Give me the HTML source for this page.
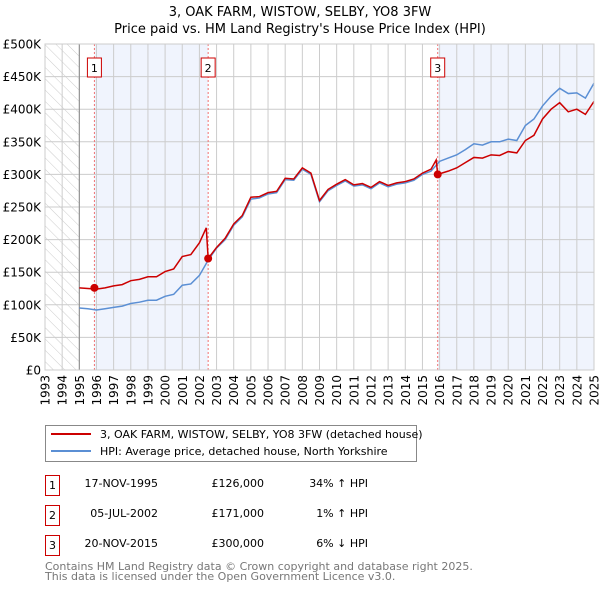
<!DOCTYPE html>
<html><head><meta charset="utf-8"><style>
body{margin:0;background:#fff;font-family:"Liberation Sans","DejaVu Sans",sans-serif;}
svg text{font-family:"DejaVu Sans","Liberation Sans",sans-serif;}
</style></head><body>
<svg id="c" width="600" height="590" xmlns="http://www.w3.org/2000/svg">
<defs><pattern id="hatch" width="8" height="8" patternUnits="userSpaceOnUse" patternTransform="rotate(-45)"><line x1="0" y1="0" x2="0" y2="8" stroke="#ccc" stroke-width="1"/></pattern></defs>
<text x="300" y="16" text-anchor="middle" font-size="13">3, OAK FARM, WISTOW, SELBY, YO8 3FW</text>
<text x="300" y="33" text-anchor="middle" font-size="13">Price paid vs. HM Land Registry's House Price Index (HPI)</text>
<g id="plot"></g>
<g>
<rect x="45.5" y="425.5" width="371" height="36" fill="#fff" stroke="#888"/>
<line x1="51" y1="434" x2="91" y2="434" stroke="#cc0000" stroke-width="2"/>
<text x="100" y="438" font-size="11">3, OAK FARM, WISTOW, SELBY, YO8 3FW (detached house)</text>
<line x1="51" y1="451" x2="91" y2="451" stroke="#5b8fd4" stroke-width="2"/>
<text x="100" y="455" font-size="11">HPI: Average price, detached house, North Yorkshire</text>
</g>
<g font-size="11">
<rect x="45.5" y="475.5" width="14" height="20" fill="#fff" stroke="#cc0000"/><text x="52.5" y="489" text-anchor="middle">1</text>
<text x="158" y="487" text-anchor="end">17-NOV-1995</text><text x="264" y="487" text-anchor="end">£126,000</text><text x="368" y="487" text-anchor="end">34% ↑ HPI</text>
<rect x="45.5" y="505.5" width="14" height="20" fill="#fff" stroke="#cc0000"/><text x="52.5" y="519" text-anchor="middle">2</text>
<text x="158" y="517" text-anchor="end">05-JUL-2002</text><text x="264" y="517" text-anchor="end">£171,000</text><text x="368" y="517" text-anchor="end">1% ↑ HPI</text>
<rect x="45.5" y="535.5" width="14" height="20" fill="#fff" stroke="#cc0000"/><text x="52.5" y="549" text-anchor="middle">3</text>
<text x="158" y="547" text-anchor="end">20-NOV-2015</text><text x="264" y="547" text-anchor="end">£300,000</text><text x="368" y="547" text-anchor="end">6% ↓ HPI</text>
</g>
<text x="45" y="570" font-size="11" fill="#777">Contains HM Land Registry data © Crown copyright and database right 2025.</text>
<text x="45" y="580" font-size="11" fill="#777">This data is licensed under the Open Government Licence v3.0.</text>
</svg>
<script>
const hpiYears=[1995,1995.5,1996,1996.5,1997,1997.5,1998,1998.5,1999,1999.5,2000,2000.5,2001,2001.5,2002,2002.5,2003,2003.5,2004,2004.5,2005,2005.5,2006,2006.5,2007,2007.5,2008,2008.5,2009,2009.5,2010,2010.5,2011,2011.5,2012,2012.5,2013,2013.5,2014,2014.5,2015,2015.5,2016,2016.5,2017,2017.5,2018,2018.5,2019,2019.5,2020,2020.5,2021,2021.5,2022,2022.5,2023,2023.5,2024,2024.5,2025];
const hpiValues=[95,94,92,94,96,98,102,104,107,107,113,116,130,132,145,168,187,200,222,235,262,264,270,272,292,291,308,300,258,275,283,290,282,284,278,287,281,285,287,291,300,305,320,325,330,338,347,345,350,350,354,352,375,385,405,420,432,424,425,417,440];
const priceYears=[1995,1995.5,1996,1996.5,1997,1997.5,1998,1998.5,1999,1999.5,2000,2000.5,2001,2001.5,2002,2002.4,2002.51,2003,2003.5,2004,2004.5,2005,2005.5,2006,2006.5,2007,2007.5,2008,2008.5,2009,2009.5,2010,2010.5,2011,2011.5,2012,2012.5,2013,2013.5,2014,2014.5,2015,2015.5,2015.8,2015.89,2016.5,2017,2017.5,2018,2018.5,2019,2019.5,2020,2020.5,2021,2021.5,2022,2022.5,2023,2023.5,2024,2024.5,2025];
const priceValues=[126,125,124,126,129,131,137,139,143,143,151,155,174,177,195,218,171,188,202,224,237,265,266,272,274,294,293,310,302,260,277,285,292,284,286,280,289,283,287,289,293,302,308,322,300,305,310,318,326,325,330,329,335,333,352,360,385,400,410,396,400,392,412];
const saleYears=[1995.88,2002.51,2015.89];
const saleValues=[126,171,300];
const saleLabels=["1","2","3"];
const yTicks=[0,50,100,150,200,250,300,350,400,450,500];
const yTickLabels=["£0","£50K","£100K","£150K","£200K","£250K","£300K","£350K","£400K","£450K","£500K"];
const xTicks=[1993,1994,1995,1996,1997,1998,1999,2000,2001,2002,2003,2004,2005,2006,2007,2008,2009,2010,2011,2012,2013,2014,2015,2016,2017,2018,2019,2020,2021,2022,2023,2024,2025];

const L=45,R=594,T=44,B=370,NS="http://www.w3.org/2000/svg";
const xs=y=>L+(y-1993)/(2025-1993)*(R-L);
const ys=v=>B-v/500*(B-T);
const g=document.getElementById('plot');
function el(t,a,p){const e=document.createElementNS(NS,t);for(const k in a)e.setAttribute(k,a[k]);(p||g).appendChild(e);return e;}

let e=el('rect',{x:xs(1993),y:T,width:xs(1995)-xs(1993),height:B-T,fill:'url(#hatch)'});


e=el('rect',{x:xs(saleYears[0]),y:T,width:xs(saleYears[1])-xs(saleYears[0]),height:B-T,fill:'#f0f4fd'});


e=el('rect',{x:xs(saleYears[2]),y:T,width:R-xs(saleYears[2]),height:B-T,fill:'#f0f4fd'});



xTicks.forEach(t=>{
  e=el('line',{x1:xs(t),x2:xs(t),y1:T,y2:B,stroke:'#ccc','stroke-width':1});
  
  
  e=el('text',{x:0,y:0,'font-size':12,'text-anchor':'end',transform:`translate(${xs(t)+4.5},${B+5}) rotate(-90)`});
  e.textContent=t;
  
  
});
yTicks.forEach((t,i)=>{
  e=el('line',{x1:L,x2:R,y1:ys(t),y2:ys(t),stroke:'#ccc','stroke-width':1});
  
  
  e=el('text',{x:L-4,y:ys(t)+4.5,'font-size':12,'text-anchor':'end'});
  e.textContent=yTickLabels[i];
  
  
});
e=el('line',{x1:xs(1995),x2:xs(1995),y1:T,y2:B,stroke:'#888','stroke-width':1});



saleYears.forEach((s,i)=>{
  e=el('line',{x1:xs(s),x2:xs(s),y1:T,y2:B,stroke:'#f07070','stroke-width':1,'stroke-dasharray':'2,2'});
  
  
  e=el('rect',{x:xs(s)-7,y:58,width:14,height:19,fill:'#fff',stroke:'#cc0000'});
  
  
  e=el('text',{x:xs(s),y:72,'font-size':11,'text-anchor':'middle'});
  e.textContent=saleLabels[i];
  
  
});

e=el('polyline',{points:hpiYears.map((y,i)=>xs(y)+','+ys(hpiValues[i])).join(' '),fill:'none',stroke:'#5b8fd4','stroke-width':1.5});


e=el('polyline',{points:priceYears.map((y,i)=>xs(y)+','+ys(priceValues[i])).join(' '),fill:'none',stroke:'#cc0000','stroke-width':1.5});


saleYears.forEach((s,i)=>{
  e=el('circle',{cx:xs(s),cy:ys(saleValues[i]),r:4,fill:'#cc0000'});
  
  
});
e=el('rect',{x:L,y:T,width:R-L,height:B-T,fill:'none',stroke:'#ccc'});


</script>
</body></html>
